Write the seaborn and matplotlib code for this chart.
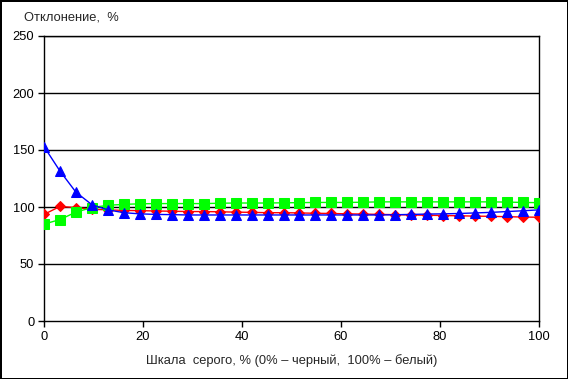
import numpy as np
import pandas as pd
import matplotlib
matplotlib.use("Agg")
import matplotlib.pyplot as plt
import seaborn as sns

# grey scale positions: 32 steps from black to white
gray_pct = [round(100 * i / 31, 2) for i in range(32)]

blue_vals = [153, 131.5, 113, 102, 97.5, 95, 94, 93.5, 93.3, 93, 93, 93, 93, 93, 93, 93,
             93, 93, 93, 93, 93, 93, 93.2, 93.5, 93.8, 94, 94.3, 94.8, 95.3, 96, 96.7, 97.5]
red_vals = [93.5, 100.5, 99.5, 98, 97.5, 97, 96.8, 96.5, 96.3, 96, 96, 95.8, 95.5, 95.3, 95, 95,
            94.8, 94.5, 94.3, 94, 93.8, 93.5, 93.3, 93, 92.8, 92.5, 92.3, 92, 91.8, 91.5, 91.2, 91]
green_vals = [85, 89, 95.5, 99.5, 101.5, 102.3, 102.8, 103, 103, 103, 103, 103.3, 103.5, 103.5, 103.5, 103.7,
              103.8, 104, 104, 104, 104.2, 104.5, 104.5, 104.5, 104.5, 104.5, 104.5, 104.5, 104.5, 104.3, 104, 103.8]

x_ticks = [0, 20, 40, 60, 80, 100]
y_ticks = [0, 50, 100, 150, 200, 250]

sns.set_style("white")
plt.rcParams['font.family'] = ['Liberation Sans', 'DejaVu Sans']

fig = plt.figure(figsize=(5.68, 3.79), dpi=100, linewidth=1, edgecolor='black')
ax = fig.add_axes([44 / 568, 58 / 379, 495 / 568, 285 / 379])

series = [
    (red_vals, '#FF0000', 'D', 5.5),
    (green_vals, '#00FF00', 's', 6.5),
    (blue_vals, '#0000FF', '^', 7.5),
]
for vals, col, mk, ms in series:
    sns.lineplot(x=gray_pct, y=vals, ax=ax, color=col, marker=mk, markersize=ms,
                 markeredgecolor=col, linewidth=1, zorder=3)

ax.set_xlim(0, 100)
ax.set_ylim(0, 250)
ax.set_xticks(x_ticks)
ax.set_yticks(y_ticks)
ax.tick_params(axis='both', direction='out', length=4, width=1, color='black',
               labelsize=9.3, labelcolor='black', pad=3)
ax.tick_params(axis='x', bottom=True)
ax.tick_params(axis='y', left=True)
for y in y_ticks[1:]:
    ax.axhline(y, color='black', linewidth=1, zorder=1)
for sp in ax.spines.values():
    sp.set_color('black')
    sp.set_linewidth(1)

ax.set_xlabel('Шкала  серого, % (0% – черный,  100% – белый)', fontsize=9.3, labelpad=8)
fig.text(24 / 568, 1 - 17 / 379, 'Отклонение,  %', fontsize=9.3, va='center', ha='left')

fig.savefig('out.png', dpi=100, edgecolor='black')
